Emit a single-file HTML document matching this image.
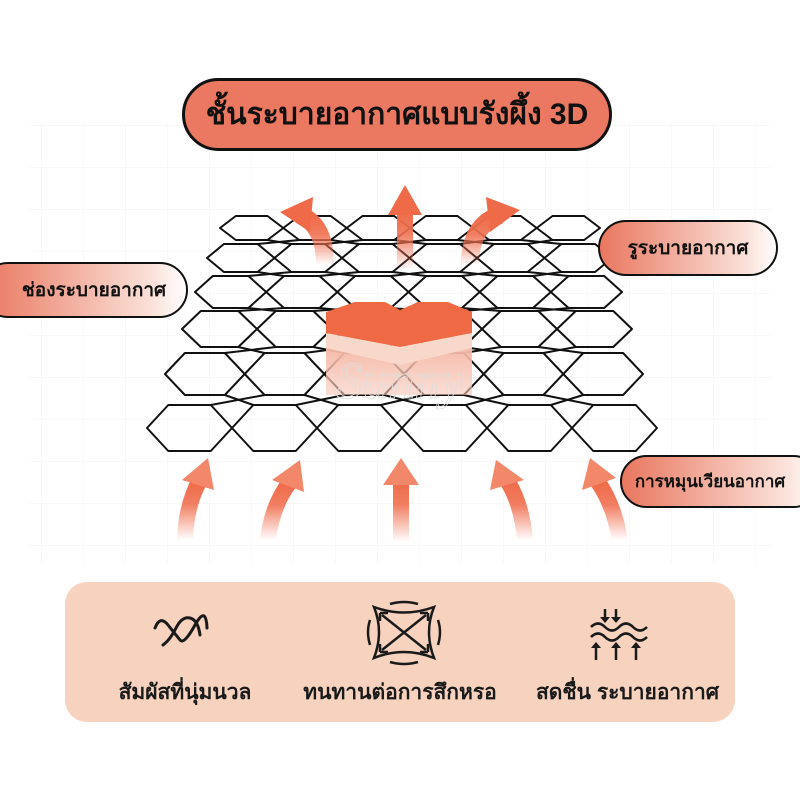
<!DOCTYPE html>
<html><head><meta charset="utf-8"><style>
html,body{margin:0;padding:0;width:800px;height:800px;overflow:hidden;background:#fff;font-family:"Liberation Sans","DejaVu Sans",sans-serif}
.pill{position:absolute;border:2.5px solid #111;border-radius:40px;box-sizing:border-box;display:flex;align-items:center;justify-content:center;font-weight:bold;color:#111}
.lbl{position:absolute;font-weight:bold;font-size:21px;color:#1a1a1a;text-align:center}
</style></head><body>
<svg width="800" height="800" style="position:absolute;left:0;top:0">
<defs>
<pattern id="g" width="42" height="42" patternUnits="userSpaceOnUse"><path d="M42 0V42H0" fill="none" stroke="#f0f0f0" stroke-width="1"/></pattern>
<linearGradient id="up" x1="0" y1="1" x2="0" y2="0"><stop offset="0" stop-color="#f07050" stop-opacity="0"/><stop offset="0.6" stop-color="#f07050" stop-opacity="0.9"/><stop offset="1" stop-color="#ee6a48"/></linearGradient>
<linearGradient id="blk" x1="0" y1="0" x2="0" y2="1"><stop offset="0" stop-color="#f5b8a6"/><stop offset="1" stop-color="#f7c7b8" stop-opacity="0.6"/></linearGradient>
</defs>
<rect x="30" y="125" width="740" height="440" fill="url(#g)"/>
<g id="hex" fill="none" stroke="#111" stroke-width="2" stroke-linejoin="round"></g>
<polygon points="326,345 400,365 472,345 472,395 326,395" fill="url(#blk)"/>
<polygon points="326,333 400,347 472,333 472,348 400,365 326,348" fill="#f9d8cc"/>
<polygon points="326,312 355,302 385,302 400,310 418,302 448,302 472,312 472,333 400,347 326,333" fill="#ee6944"/>
<path d="M325 265 Q325 225 300 215" stroke="url(#up)" stroke-width="18" fill="none"/>
<polygon points="280,212 313,197 310,232" fill="#ee6a48"/>
<rect x="397" y="210" width="16" height="60" fill="url(#up)"/>
<polygon points="388,215 405,185 422,215" fill="#ee6a48"/>
<path d="M470 265 Q470 225 500 215" stroke="url(#up)" stroke-width="18" fill="none"/>
<polygon points="520,210 486,197 490,232" fill="#ee6a48"/>
<path d="M185 540 Q186 505 200 480" stroke="url(#up)" stroke-width="16" fill="none"/>
<polygon points="182,480 208,458 214,490" fill="#f2876a"/>
<path d="M268 540 Q272 505 290 482" stroke="url(#up)" stroke-width="16" fill="none"/>
<polygon points="272,480 300,460 304,492" fill="#f2876a"/>
<rect x="393" y="480" width="16" height="62" fill="url(#up)"/>
<polygon points="383,485 401,458 419,485" fill="#f2876a"/>
<path d="M525 540 Q522 505 508 482" stroke="url(#up)" stroke-width="16" fill="none"/>
<polygon points="490,490 496,460 524,480" fill="#f2876a"/>
<path d="M620 540 Q614 505 598 482" stroke="url(#up)" stroke-width="16" fill="none"/>
<polygon points="582,490 590,458 616,478" fill="#f2876a"/>
<text x="400" y="398" font-family="Liberation Serif" font-style="italic" font-size="52" fill="none" stroke="#ddd" stroke-width="0.8" text-anchor="middle">Sunny</text>
<rect x="65" y="582" width="670" height="140" rx="22" fill="#f7d2bf"/>
<g stroke="#1a1a1a" stroke-width="3" fill="none" stroke-linecap="round">
<path d="M155 628 Q160 615 168 625 T180 640 T195 625 T207 628"/>
<path d="M163 645 Q170 640 176 628 T190 618 T200 635"/>
</g>
<g stroke="#1a1a1a" stroke-width="2.5" fill="none">
<path d="M374 607 Q404 618 434 607 Q424 632 434 658 Q404 646 374 658 Q384 632 374 607Z"/>
<path d="M382 615 L426 650 M426 615 L382 650"/>
<path d="M380 613 l8 0 M380 613 l0 8 M428 613 l-8 0 M428 613 l0 8 M380 652 l8 0 M380 652 l0 -8 M428 652 l-8 0 M428 652 l0 -8"/>
<path d="M390 604 Q404 600 418 604 M390 662 Q404 666 418 662 M370 620 Q366 632 370 645 M438 620 Q442 632 438 645"/>
</g>
<g stroke="#1a1a1a" stroke-width="2.5" fill="none">
<path d="M591 627 q7 -7 14 0 t14 0 t14 0 t14 0"/>
<path d="M591 637 q7 -7 14 0 t14 0 t14 0 t14 0"/>
<path d="M605 609 v10 M616 609 v10 M596 660 v-12 M616 660 v-12 M636 660 v-12"/>
</g>
<g fill="#1a1a1a">
<polygon points="600,617 610,617 605,623"/><polygon points="611,617 621,617 616,623"/>
<polygon points="591,648 601,648 596,642"/><polygon points="611,648 621,648 616,642"/><polygon points="631,648 641,648 636,642"/>
</g>
</svg>
<div class="pill" style="left:182px;top:78px;width:430px;height:73px;background:#eb7860;border-width:3px;font-size:30px">ชั้นระบายอากาศแบบรังผึ้ง 3D</div>
<div class="pill" style="left:598px;top:220px;width:180px;height:56px;background:linear-gradient(90deg,#e9775f,#fbe4dc 85%,#fff);font-size:19px">รูระบายอากาศ</div>
<div class="pill" style="left:-20px;top:262px;width:208px;height:56px;background:linear-gradient(90deg,#e9775f,#fbe4dc 85%,#fff);font-size:19px;padding-left:20px">ช่องระบายอากาศ</div>
<div class="pill" style="left:620px;top:455px;width:200px;height:53px;background:linear-gradient(90deg,#e9775f,#fbe4dc 85%,#fff);font-size:17px;padding-right:20px">การหมุนเวียนอากาศ</div>
<div class="lbl" style="left:100px;top:676px;width:170px">สัมผัสที่นุ่มนวล</div>
<div class="lbl" style="left:295px;top:676px;width:210px">ทนทานต่อการสึกหรอ</div>
<div class="lbl" style="left:520px;top:676px;width:215px">สดชื่น ระบายอากาศ</div>
<script>
var g=document.getElementById('hex'),s='';
var rows=[[228,220,600,24],[258,207,612,28],[292,195,622,32],[329,182,632,36],[374,165,643,42],[428,147,657,46]];
var V=[];
rows.forEach(function(r){var cy=r[0],x0=r[1],x1=r[2],h=r[3],w=(x1-x0)/6,rv=[];
for(var i=0;i<6;i++){var x=x0+i*w;
var p=[[x,cy],[x+w*0.25,cy-h/2],[x+w*0.75,cy-h/2],[x+w,cy],[x+w*0.75,cy+h/2],[x+w*0.25,cy+h/2]];
rv.push(p);
s+='<polygon points="'+p.map(function(q){return q[0].toFixed(1)+','+q[1].toFixed(1)}).join(' ')+'"/>';}
V.push(rv);});
function L(a,b){s+='<line x1="'+a[0].toFixed(1)+'" y1="'+a[1].toFixed(1)+'" x2="'+b[0].toFixed(1)+'" y2="'+b[1].toFixed(1)+'"/>';}
for(var r=0;r<5;r++){for(var i=0;i<6;i++){
 if(i<5){L(V[r][i][4],V[r+1][i+1][1]);L(V[r][i+1][5],V[r+1][i][2]);}
}}
g.innerHTML=s;
</script>
</body></html>
